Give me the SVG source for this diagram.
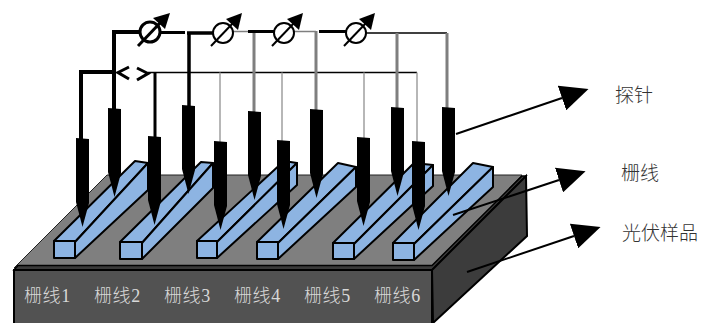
<svg xmlns="http://www.w3.org/2000/svg" width="702" height="323" viewBox="0 0 702 323">
<style>
.bar{fill:#8db4e2;stroke:#000;stroke-width:2;stroke-linejoin:round}
.probe{fill:#000}
.w{fill:none;stroke:#000;stroke-linejoin:miter}
.g{fill:none;stroke:#7f7f7f}
.lg{fill:none;stroke:#a0a0a0}
.m{fill:#fff;stroke:#000}
.hd{fill:#000}
.lbl{font-family:"Liberation Serif","Noto Sans CJK SC",serif;font-size:18px;font-weight:300;letter-spacing:.6px;fill:#d8d8d8}
.cap{font-family:"Noto Sans CJK SC","Liberation Sans",sans-serif;font-size:19px;font-weight:300;fill:#333}
.ar{fill:none;stroke:#000;stroke-width:2;marker-end:url(#tri)}
</style>
<defs>
<marker id="tri" markerUnits="userSpaceOnUse" viewBox="0 0 28 26" refX="0" refY="13" markerWidth="28" markerHeight="26" orient="auto"><path d="M0,0L28,13L0,26z" fill="#000"/></marker>
<polygon id="pr" points="0,0 13,1 13,65 6.500,89 0,64" class="probe"/>
</defs>
<g id="sample">
<polygon points="14,268 107,175 522,175 433,268" fill="#7f7f7f" stroke="#222" stroke-width="1"/>
<polygon points="14,270 18,265.500 432,265.500 522,176 526,176 432,270" fill="#3a3a3a" stroke="#000" stroke-width="1.500"/>
<polygon points="432,270 526,176 527,236 433,323" fill="#3c3c3c" stroke="#000" stroke-width="2"/>
<polygon points="14,270 432,270 432,325 14,325" fill="#525252" stroke="#000" stroke-width="2"/>
</g>
<g id="grid-1"><polygon class="bar" points="54,241 75,242 148,163 135,161"/><polygon class="bar" points="75,242 148,163 148,190 75,258"/><rect class="bar" x="54" y="241" width="21" height="17"/></g>
<g id="grid-2"><polygon class="bar" points="120,242 142,243 213,163 201,162"/><polygon class="bar" points="142,243 213,163 213,188 142,259"/><rect class="bar" x="120" y="242" width="22" height="17"/></g>
<g id="grid-3"><polygon class="bar" points="197,241 217,242 297,163 284,161"/><polygon class="bar" points="217,242 297,163 297,185 217,258"/><rect class="bar" x="197" y="241" width="20" height="17"/></g>
<g id="grid-4"><polygon class="bar" points="257,242 278,243 356,167 338,163"/><polygon class="bar" points="278,243 356,167 356,187 278,259"/><rect class="bar" x="257" y="242" width="21" height="17"/></g>
<g id="grid-5"><polygon class="bar" points="333,243 354,244 433,165 414,163"/><polygon class="bar" points="354,244 433,165 433,186 354,259"/><rect class="bar" x="333" y="243" width="21" height="16"/></g>
<g id="grid-6"><polygon class="bar" points="393,243 414,244 493,167 473,163"/><polygon class="bar" points="414,244 493,167 493,187 414,260"/><rect class="bar" x="393" y="243" width="21" height="17"/></g>
<g id="connectors">
<path class="w" stroke-width="4" d="M81,139V72H116"/>
<path class="w" stroke-width="4" d="M114,110V32H140"/>
<path class="w" stroke-width="3" d="M155,137V72.500"/>
<path class="w" stroke-width="1.500" d="M148,72.500H417"/>
<path class="lg" stroke-width="1.500" d="M220,72.500V142M282,72.500V141M364,72.500V138M417,72.500V142"/>
<path class="w" stroke-width="3" d="M160,32.500H185"/>
<path class="w" stroke-width="3.500" d="M189,107V33M187,33H214"/>
<path class="g" stroke-width="1.500" d="M232,31.500H248"/>
<path class="g" stroke-width="3" d="M254,112V31"/>
<path class="w" stroke-width="3" d="M248,31.500H275"/>
<path class="g" stroke-width="1.500" d="M293,31.500H316"/>
<path class="g" stroke-width="3" d="M316,110V31"/>
<path class="w" stroke-width="3" d="M319,31.500H347"/>
<path class="w" stroke-width="1.500" d="M365,33H447"/>
<path class="g" stroke-width="3" d="M397,108V33M447,108V33"/>
<path class="w" stroke-width="3" d="M129,67L118,72.500L129,79M137,68L148,73.500L137,80"/>
<path class="ar" d="M456,134L562,98"/>
<path class="ar" d="M453,215L559,180"/>
<path class="ar" d="M467,272L574,236"/>
</g>
<g id="meter-1"><circle class="m" cx="150" cy="32" r="10" stroke-width="3"/><path class="w" stroke-width="3" d="M138,46L160,23"/><polygon class="hd" points="170,13 153,18 165,29"/></g>
<g id="meter-2"><circle class="m" cx="223" cy="33" r="10" stroke-width="2"/><path class="w" stroke-width="2" d="M211,46L233,23"/><polygon class="hd" points="242,13 226,19 238,30"/></g>
<g id="meter-3"><circle class="m" cx="284" cy="33" r="10" stroke-width="2"/><path class="w" stroke-width="2" d="M272,46L294,23"/><polygon class="hd" points="303,13 287,19 299,30"/></g>
<g id="meter-4"><circle class="m" cx="356" cy="33" r="10" stroke-width="2"/><path class="w" stroke-width="2" d="M344,46L366,23"/><polygon class="hd" points="375,13 359,19 371,30"/></g>
<g id="probes">
<use href="#pr" x="76" y="138"/>
<use href="#pr" x="108" y="108"/>
<use href="#pr" x="148" y="136"/>
<use href="#pr" x="182" y="105"/>
<use href="#pr" x="214" y="141"/>
<use href="#pr" x="248" y="111"/>
<use href="#pr" x="277" y="140"/>
<use href="#pr" x="310" y="109"/>
<use href="#pr" x="357" y="137"/>
<use href="#pr" x="391" y="107"/>
<use href="#pr" x="412" y="141"/>
<use href="#pr" x="442" y="107"/>
</g>
<g id="labels">
<text class="lbl" x="24" y="302">栅线1</text>
<text class="lbl" x="94" y="302">栅线2</text>
<text class="lbl" x="164" y="302">栅线3</text>
<text class="lbl" x="234" y="302">栅线4</text>
<text class="lbl" x="304" y="302">栅线5</text>
<text class="lbl" x="374" y="302">栅线6</text>
<text class="cap" x="615" y="102">探针</text>
<text class="cap" x="621" y="180">栅线</text>
<text class="cap" x="622" y="240">光伏样品</text>
</g>
</svg>
